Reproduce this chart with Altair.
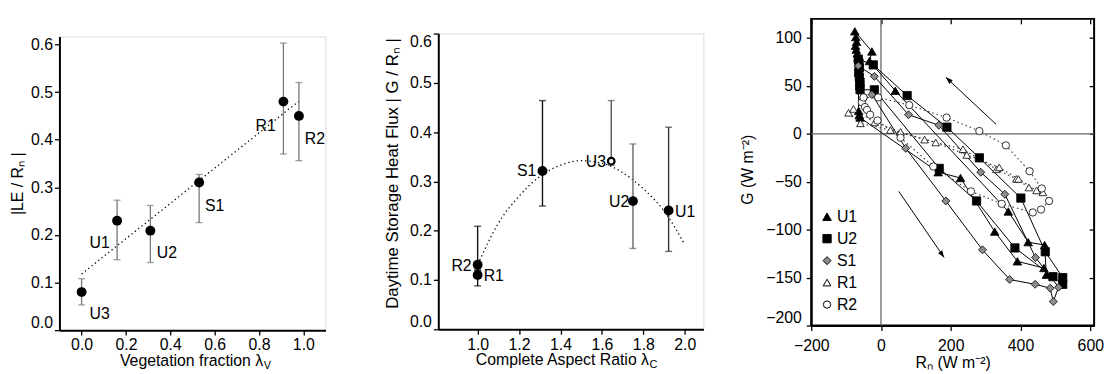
import math
import altair as alt
import pandas as pd

FONT = "Liberation Sans"
FS = 16

# ---------------- panel 1 : |LE/Rn| vs vegetation fraction ----------------
p1_site = ["U3", "U1", "U2", "S1", "R1", "R2"]
p1_x = [0.0, 0.16, 0.31, 0.53, 0.91, 0.98]
p1_y = [0.080, 0.230, 0.209, 0.310, 0.480, 0.450]
p1_lo = [0.053, 0.148, 0.142, 0.226, 0.370, 0.356]
p1_hi = [0.108, 0.273, 0.262, 0.327, 0.603, 0.520]
p1_lab_x = [0.081, 0.081, 0.385, 0.600, 0.830, 1.052]
p1_lab_y = [0.033, 0.183, 0.161, 0.260, 0.428, 0.401]
p1_fit_x = [0.0, 0.98]
p1_fit_y = [0.118, 0.481]
p1_xticks = [0.0, 0.2, 0.4, 0.6, 0.8, 1.0]
p1_yticks = [0.0, 0.1, 0.2, 0.3, 0.4, 0.5, 0.6]
p1_xtitle = ["Vegetation fraction λ", "V"]
p1_ytitle = "|LE / Rₙ |"

# ---------------- panel 2 : |G/Rn| vs complete aspect ratio ----------------
p2_site = ["R2", "R1", "S1", "U3", "U2", "U1"]
p2_x = [1.0, 1.0, 1.313, 1.645, 1.75, 1.922]
p2_y = [0.131, 0.110, 0.321, 0.341, 0.260, 0.241]
p2_lo = [0.120, 0.088, 0.250, 0.333, 0.164, 0.158]
p2_hi = [0.209, 0.120, 0.464, 0.464, 0.376, 0.410]
p2_open = [False, False, False, True, False, False]
p2_lab_x = [0.922, 1.078, 1.237, 1.571, 1.683, 2.002]
p2_lab_y = [0.128, 0.108, 0.320, 0.340, 0.259, 0.238]
p2_fit_x = [1.01, 1.1, 1.2, 1.3, 1.4, 1.5, 1.6, 1.7, 1.8, 1.9, 2.0]
p2_fit_y = [0.140, 0.215, 0.270, 0.310, 0.333, 0.342, 0.337, 0.318, 0.285, 0.240, 0.172]
p2_xticks = [1.0, 1.2, 1.4, 1.6, 1.8, 2.0]
p2_yticks = [0.0, 0.1, 0.2, 0.3, 0.4, 0.5, 0.6]
p2_xtitle = ["Complete Aspect Ratio λ", "C"]
p2_ytitle = "Daytime Storage Heat Flux | G / Rₙ |"
p2_bar_colors = {"R2": "#111111", "R1": "#111111", "S1": "#111111",
                 "U3": "#555555", "U2": "#666666", "U1": "#333333"}

# ---------------- panel 3 : G vs Rn hysteresis ----------------
u1_rn = [-62, -60, 164, 228, 326, 391, 467, 474, 469, 422, 365, 41, -33, -26, -75, -72, -70, -73, -71, -68, -66, -64]
u1_g = [20, 17, -40, -46, -102, -133, -140, -147, -116, -113, -81, 45, 76, 86, 107, 101, 96, 92, 88, 84, 80, 24]
u2_rn = [-60, -19, 167, 274, 384, 493, 521, 521, 471, 401, 282, 189, 75, -22, -65, -63, -62, -64, -62, -60, -61]
u2_g = [46, 46, -36, -70, -119, -149, -157, -150, -123, -67, -25, 7, 40, 72, 78, 74, 69, 64, 59, 54, 50]
s1_rn = [-26, 71, 186, 291, 369, 442, 485, 494, 509, 443, 355, 286, 166, 79, -19, -65]
s1_g = [41, -15, -70, -121, -152, -157, -161, -175, -160, -129, -63, -40, 9, 20, 60, 71]
r1_rn = [-93, -59, 27, 125, 235, 331, 388, 424, 464, 446, 394, 339, 246, 157, 56, -18, -79]
r1_g = [22, 11, 4, -6, -16, -37, -47, -56, -61, -59, -47, -35, -22, -9, 2, 12, 26]
r2_rn = [-50, -55, -46, -40, -31, -10, 56, 150, 258, 346, 435, 459, 482, 461, 426, 358, 282, 188, 81, -8, -50]
r2_g = [38, 33, 28, 25, 20, 14, -4, -34, -60, -73, -82, -79, -70, -57, -39, -12, 3, 17, 30, 38, 38]
p3_sites = ["U1", "U2", "S1", "R1", "R2"]
arrow_x1 = [330, 51]
arrow_y1 = [10, -60]
arrow_x2 = [186, 181]
arrow_y2 = [59, -129]
p3_xticks = [-200, 0, 200, 400, 600]
p3_yticks = [-200, -150, -100, -50, 0, 50, 100]
p3_xtitle = "Rₙ (W m⁻²)"
p3_ytitle = "G (W m⁻²)"


def axis(**kw):
    d = dict(grid=False, domainColor="black", domainWidth=2, tickColor="black",
             tickWidth=1.3, tickSize=5, labelFontSize=FS, labelColor="black",
             labelFont=FONT, titleFont=FONT, titleFontSize=FS, titleFontWeight="normal",
             titleColor="black", labelPadding=2)
    d.update(kw)
    return alt.Axis(**d)


def spacer(w):
    return alt.Chart(pd.DataFrame({"a": [0]})).mark_point(opacity=0, size=0).properties(width=w, height=1)


# ======================= panel 1 =======================
W1, H1 = 269, 297
x1s = alt.Scale(domain=[-0.1, 1.1], nice=False, zero=False)
y1s = alt.Scale(domain=[0, 0.617], nice=False, zero=False)
ax1x = axis(values=p1_xticks, format=".1f", title=None, labelFlush=False)
ax1y = axis(values=p1_yticks, format=".1f", title=p1_ytitle, labelFlush=True, titlePadding=5.5)

d1 = pd.DataFrame({"site": p1_site, "x": p1_x, "y": p1_y, "lo": p1_lo, "hi": p1_hi,
                   "lx": p1_lab_x, "ly": p1_lab_y})
f1 = pd.DataFrame({"x": p1_fit_x, "y": p1_fit_y})


def X1(f):
    return alt.X(f, type="quantitative", scale=x1s, axis=ax1x)


def Y1(f):
    return alt.Y(f, type="quantitative", scale=y1s, axis=ax1y)


c1 = alt.Chart(d1)
l1_fit = alt.Chart(f1).mark_line(color="black", strokeDash=[1.3, 3], strokeWidth=1.3).encode(x=X1("x"), y=Y1("y"))
l1_err = c1.mark_rule(color="#777777", strokeWidth=1.3).encode(x=X1("x"), y=Y1("lo"), y2="hi")
l1_cap1 = c1.mark_tick(orient="horizontal", size=7, thickness=1.3, color="#777777").encode(x=X1("x"), y=Y1("lo"))
l1_cap2 = c1.mark_tick(orient="horizontal", size=7, thickness=1.3, color="#777777").encode(x=X1("x"), y=Y1("hi"))
l1_pts = c1.mark_circle(size=100, color="black", opacity=1).encode(x=X1("x"), y=Y1("y"))
l1_lab = c1.mark_text(font=FONT, fontSize=FS, color="black").encode(x=X1("lx"), y=Y1("ly"), text="site")
t1 = alt.Chart(pd.DataFrame({"a": [0]}))
l1_t = t1.mark_text(font=FONT, fontSize=FS, align="right", baseline="middle", color="black").encode(
    x=alt.value(206), y=alt.value(H1 + 31), text=alt.value(p1_xtitle[0]))
l1_ts = t1.mark_text(font=FONT, fontSize=11, align="left", baseline="middle", color="black").encode(
    x=alt.value(206.5), y=alt.value(H1 + 36), text=alt.value(p1_xtitle[1]))

panel1 = alt.layer(l1_fit, l1_err, l1_cap1, l1_cap2, l1_pts, l1_lab, l1_t, l1_ts).properties(
    width=W1, height=H1)

# ======================= panel 2 =======================
W2, H2 = 268, 299
x2s = alt.Scale(domain=[0.81, 2.09], nice=False, zero=False)
y2s = alt.Scale(domain=[0, 0.6], nice=False, zero=False)
ax2x = axis(values=p2_xticks, format=".1f", title=None, labelFlush=False)
ax2y = axis(values=p2_yticks, format=".1f", title=p2_ytitle, labelFlush=True, titlePadding=8,
            titleFontSize=17, titleY=141)

d2 = pd.DataFrame({"site": p2_site, "x": p2_x, "y": p2_y, "lo": p2_lo, "hi": p2_hi,
                   "open": p2_open, "lx": p2_lab_x, "ly": p2_lab_y})
f2 = pd.DataFrame({"x": p2_fit_x, "y": p2_fit_y})


def X2(f):
    return alt.X(f, type="quantitative", scale=x2s, axis=ax2x)


def Y2(f):
    return alt.Y(f, type="quantitative", scale=y2s, axis=ax2y)


bar_col = alt.Color("site:N", scale=alt.Scale(domain=list(p2_bar_colors.keys()),
                                              range=list(p2_bar_colors.values())), legend=None)
c2 = alt.Chart(d2)
l2_fit = alt.Chart(f2).mark_line(color="black", strokeDash=[1.3, 3], strokeWidth=1.3,
                                 interpolate="monotone").encode(x=X2("x"), y=Y2("y"))
l2_err = c2.mark_rule(strokeWidth=1.4).encode(x=X2("x"), y=Y2("lo"), y2="hi", color=bar_col)
l2_cap1 = c2.mark_tick(orient="horizontal", size=7, thickness=1.4).encode(x=X2("x"), y=Y2("lo"), color=bar_col)
l2_cap2 = c2.mark_tick(orient="horizontal", size=7, thickness=1.4).encode(x=X2("x"), y=Y2("hi"), color=bar_col)
l2_pts = c2.transform_filter("!datum.open").mark_circle(size=100, color="black", opacity=1).encode(
    x=X2("x"), y=Y2("y"))
l2_open = c2.transform_filter("datum.open").mark_point(size=45, fill="white", filled=True, stroke="black",
                                                        strokeWidth=2.2, opacity=1).encode(x=X2("x"), y=Y2("y"))
l2_lab = c2.mark_text(font=FONT, fontSize=FS, color="black").encode(x=X2("lx"), y=Y2("ly"), text="site")
l2_t = t1.mark_text(font=FONT, fontSize=FS, align="right", baseline="middle", color="black").encode(
    x=alt.value(213), y=alt.value(H2 + 31), text=alt.value(p2_xtitle[0]))
l2_ts = t1.mark_text(font=FONT, fontSize=11, align="left", baseline="middle", color="black").encode(
    x=alt.value(213.5), y=alt.value(H2 + 36), text=alt.value(p2_xtitle[1]))

panel2 = alt.layer(l2_fit, l2_err, l2_cap1, l2_cap2, l2_pts, l2_open, l2_lab, l2_t, l2_ts).properties(
    width=W2, height=H2)

# ======================= panel 3 =======================
W3, H3 = 286, 310
XD3 = [-200, 611]
YD3 = [-200, 120]
x3s = alt.Scale(domain=XD3, nice=False, zero=False)
y3s = alt.Scale(domain=YD3, nice=False, zero=False)
ax3x = axis(values=p3_xticks, title=p3_xtitle, labelFlush=False, labelPadding=7, titlePadding=1)
ax3y = axis(values=p3_yticks, title=p3_ytitle, labelFlush=True, labelPadding=5, titlePadding=10,
            titleY=152)

rows = []
for s, rn, g in [("U1", u1_rn, u1_g), ("U2", u2_rn, u2_g), ("S1", s1_rn, s1_g),
                 ("R1", r1_rn, r1_g), ("R2", r2_rn, r2_g)]:
    for i, (a, b) in enumerate(zip(rn, g)):
        rows.append({"site": s, "i": i, "rn": a, "g": b})
d3 = pd.DataFrame(rows)


def X3(f, ax=ax3x):
    return alt.X(f, type="quantitative", scale=x3s, axis=ax)


def Y3(f, ax=ax3y):
    return alt.Y(f, type="quantitative", scale=y3s, axis=ax)


c3 = alt.Chart(d3)
l3_solid = c3.transform_filter("datum.site[0] != 'R'").mark_line(color="black", strokeWidth=1).encode(
    x=X3("rn"), y=Y3("g"), detail="site:N", order="i:Q")
l3_dot = c3.transform_filter("datum.site[0] == 'R'").mark_line(color="#333333", strokeWidth=1.1,
                                                               strokeDash=[1.5, 3]).encode(
    x=X3("rn"), y=Y3("g"), detail="site:N", order="i:Q")

shape_sc = alt.Scale(domain=p3_sites, range=["triangle-up", "square", "diamond", "triangle-up", "circle"])
fill_sc = alt.Scale(domain=p3_sites, range=["black", "black", "#8c8c8c", "white", "white"])
stroke_sc = alt.Scale(domain=p3_sites, range=["black", "black", "black", "black", "black"])
size_sc = alt.Scale(domain=p3_sites, range=[75, 55, 70, 70, 45])
# legend lives at the top level of the concat: offsets are from the first panel's origin
leg = alt.Legend(title=None, orient="none", legendX=768, legendY=192, padding=0, rowPadding=6.2,
                 labelFont=FONT, labelFontSize=FS, labelColor="black",
                 symbolStrokeWidth=1, labelOffset=2)
l3_pts = c3.mark_point(filled=True, strokeWidth=0.8, opacity=1).encode(
    x=X3("rn"), y=Y3("g"),
    shape=alt.Shape("site:N", scale=shape_sc, legend=leg),
    fill=alt.Fill("site:N", scale=fill_sc, legend=leg),
    stroke=alt.Stroke("site:N", scale=stroke_sc, legend=leg),
    size=alt.Size("site:N", scale=size_sc, legend=leg))

# arrows
px_per_x = W3 / (XD3[1] - XD3[0])
px_per_y = H3 / (YD3[1] - YD3[0])
ang = []
for a, b, c, d in zip(arrow_x1, arrow_y1, arrow_x2, arrow_y2):
    dx = (c - a) * px_per_x
    dy = -(d - b) * px_per_y
    ang.append((math.degrees(math.atan2(dx, -dy)) + 360) % 360)
da = pd.DataFrame({"x1": arrow_x1, "y1": arrow_y1, "x2": arrow_x2, "y2": arrow_y2, "ang": ang})
l3_arr = alt.Chart(da).mark_rule(color="black", strokeWidth=1).encode(
    x=X3("x1"), y=Y3("y1"), x2="x2", y2="y2")
l3_head = alt.Chart(da).mark_point(shape="M0,0L-0.36,1L0.36,1Z", size=200, filled=True, color="black",
                                   opacity=1).encode(
    x=X3("x2"), y=Y3("y2"), angle=alt.Angle("ang:Q", scale=None))

inner3 = alt.layer(l3_solid, l3_dot, l3_arr, l3_head, l3_pts)

zero = pd.DataFrame({"z": [0]})
top_ax = axis(orient="top", offset=-5, labels=False, domain=False, title=None, values=p3_xticks, tickSize=5)
right_ax = axis(orient="right", offset=-5, labels=False, domain=False, title=None, values=p3_yticks, tickSize=5)
l3_v = alt.Chart(zero).mark_rule(color="#666666", strokeWidth=1.3).encode(x=X3("z", top_ax))
l3_h = alt.Chart(zero).mark_rule(color="#666666", strokeWidth=1.3).encode(y=Y3("z", right_ax))

panel3 = alt.layer(l3_v, l3_h, inner3).resolve_axis(x="independent", y="independent").properties(
    width=W3, height=H3, view=alt.ViewBackground(stroke="black", strokeWidth=2))

col1 = alt.vconcat(spacer(W1), panel1, spacing=15.7)
col2 = alt.vconcat(spacer(W2), panel2, spacing=11.8)

chart = alt.hconcat(alt.hconcat(col1, col2, spacing=57), panel3, spacing=34).properties(
    padding={"left": 0, "top": 7, "right": 0, "bottom": 0}
).configure_view(stroke=None).configure(font=FONT)

chart.save("out.html", embed_options={"renderer": "svg", "actions": False})
